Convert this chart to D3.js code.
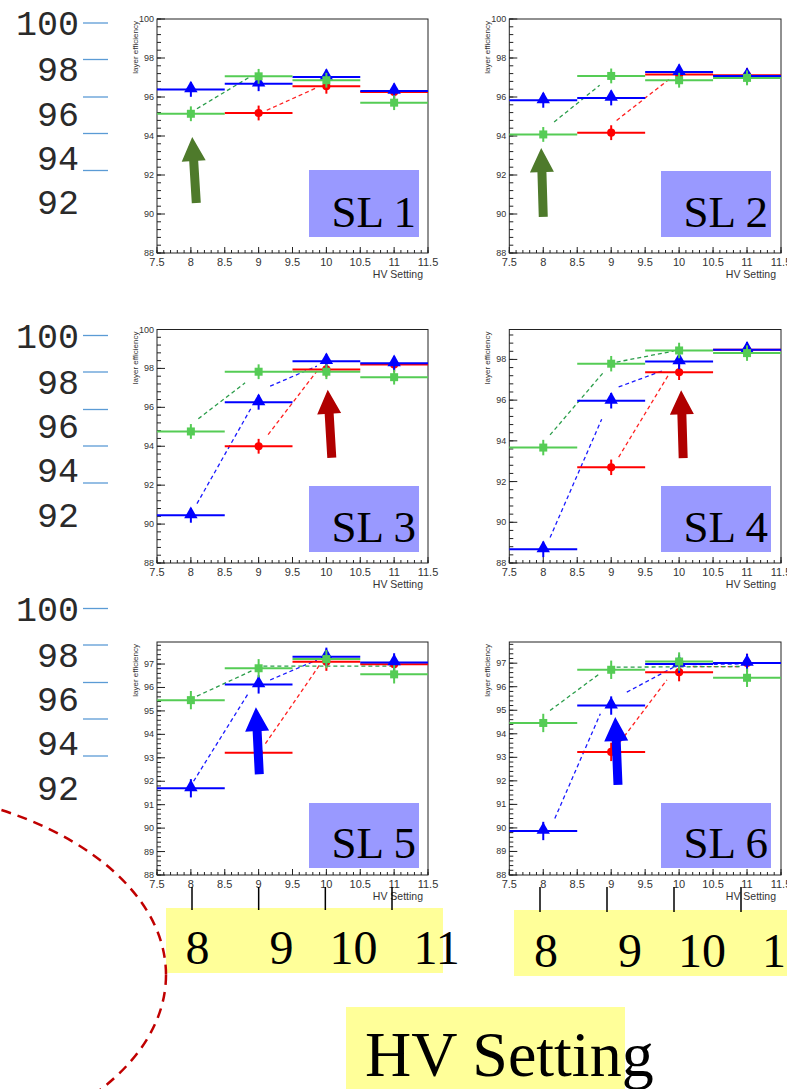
<!DOCTYPE html>
<html><head><meta charset="utf-8">
<script src="https://cdn.jsdelivr.net/npm/d3@7"></script>
<style>body{margin:0;background:#fff}svg{display:block}</style>
</head><body>
<svg id="c" width="787" height="1089"></svg>
<script>
// ---------------- data ----------------
const hv = [8, 9, 10, 11];
const xTicks = [7.5, 8, 8.5, 9, 9.5, 10, 10.5, 11, 11.5];
const panelNames = ["SL 1", "SL 2", "SL 3", "SL 4", "SL 5", "SL 6"];
const yMin = 88;
const yMax = [100, 100, 100, 99.47, 97.94, 97.9];
const yStep = [2, 2, 2, 2, 1, 1];
const errY = [0.38, 0.38, 0.38, 0.38, 0.39, 0.39];

const red1 = [null, 95.18, 96.55, 96.26], blue1 = [96.39, 96.68, 97.03, 96.31], green1 = [95.14, 97.06, 96.86, 95.71];
const red2 = [null, 94.17, 97.15, 97.11], blue2 = [95.83, 95.95, 97.28, 97.08], green2 = [94.08, 97.08, 96.86, 96.98];
const red3 = [null, 94.0, 97.95, 98.2], blue3 = [90.45, 96.26, 98.37, 98.26], green3 = [94.76, 97.83, 97.83, 97.55];
const red4 = [null, 92.7, 97.37, 98.47], blue4 = [88.67, 95.97, 97.9, 98.47], green4 = [93.67, 97.79, 98.44, 98.31];
const red5 = [null, 93.22, 97.1, 96.99], blue5 = [91.7, 96.13, 97.31, 97.07], green5 = [95.46, 96.82, 97.21, 96.56];
const red6 = [null, 93.23, 96.62, 97.01], blue6 = [89.87, 95.2, 96.97, 97.01], green6 = [94.46, 96.72, 97.07, 96.38];

// dashed fit curves, visible segments [x, eff]
const fitRed1 = [[[9.12, 95.32], [9.86, 96.48]]];
const fitBlue1 = [];
const fitGreen1 = [[[8.09, 95.40], [8.87, 97.03]]];
const fitRed2 = [[[9.08, 94.8], [9.85, 96.9]]];
const fitBlue2 = [];
const fitGreen2 = [[[8.16, 94.72], [8.83, 96.6]]];
const fitRed3 = [[[9.14, 94.6], [9.86, 97.86]]];
const fitBlue3 = [[[8.09, 91.05], [8.90, 96.03]], [[9.17, 97.09], [9.86, 98.12]]];
const fitGreen3 = [[[8.11, 95.41], [8.80, 97.26]]];
const fitRed4 = [[[9.11, 93.2], [9.84, 97.22]]];
const fitBlue4 = [[[8.1, 89.25], [8.86, 95.06]], [[9.11, 96.65], [9.77, 97.46]]];
const fitGreen4 = [[[8.1, 94.29], [8.89, 97.38]], [[9.08, 97.87], [9.92, 98.41]]];
const fitRed5 = [[[9.1, 93.6], [9.9, 96.96]]];
const fitBlue5 = [[[8.04, 92.0], [8.85, 95.76]], [[9.17, 96.32], [9.86, 97.17]]];
const fitGreen5 = [[[8.09, 95.63], [8.92, 96.74]], [[9.07, 96.91], [10.98, 96.91]]];
const fitRed6 = [[[9.13, 93.65], [9.82, 96.29]], [[10.2, 96.85], [10.9, 96.85]]];
const fitBlue6 = [[[8.17, 90.4], [8.84, 94.85]], [[9.23, 95.77], [9.92, 96.83]], [[10.2, 96.94], [10.95, 96.97]]];
const fitGreen6 = [[[8.1, 94.99], [8.81, 96.51]], [[9.08, 96.83], [10.9, 96.86]]];

// annotation arrows (data coords: tip, tail)
const arrowTip = [[8.02, 93.95], [7.97, 93.38], [10.02, 96.9], [10.03, 96.48], [8.96, 95.16], [9.06, 94.71]];
const arrowTail = [[8.08, 90.56], [8.0, 89.85], [10.08, 93.41], [10.06, 93.15], [9.01, 92.3], [9.10, 91.83]];
const arrowColor = ["#4e7a2b", "#4e7a2b", "#b00000", "#b00000", "#0000ff", "#0000ff"];

const sideLabels = ["100", "98", "96", "94", "92"];
const bottomLabels = "8     9   10   11";
const bigLabel = "HV Setting";

// ---------------- layout ----------------
const cols = [[157, 428], [509.3, 781]];
const rows = [[19, 253], [329.5, 563], [642, 875]];
const slBox = [[309, 170, 110, 67], [661, 171, 110, 66], [309, 486, 110, 66], [661, 486, 110, 66], [309, 803, 110, 65], [661, 803, 110, 65]];
const COL = {red: "#ff0000", blue: "#0000ff", green: "#55cc55"};
const DASH = {red: "#ff2020", blue: "#1a1aff", green: "#2a9d4a"};

const svg = d3.select("#c");
const allSeries = [
  {red: red1, blue: blue1, green: green1, fit: {red: fitRed1, blue: fitBlue1, green: fitGreen1}},
  {red: red2, blue: blue2, green: green2, fit: {red: fitRed2, blue: fitBlue2, green: fitGreen2}},
  {red: red3, blue: blue3, green: green3, fit: {red: fitRed3, blue: fitBlue3, green: fitGreen3}},
  {red: red4, blue: blue4, green: green4, fit: {red: fitRed4, blue: fitBlue4, green: fitGreen4}},
  {red: red5, blue: blue5, green: green5, fit: {red: fitRed5, blue: fitBlue5, green: fitGreen5}},
  {red: red6, blue: blue6, green: green6, fit: {red: fitRed6, blue: fitBlue6, green: fitGreen6}}
];

// side labels with blue dashes
const sideOffsets = [0, 312.5, 585.5];
const sideBase = [35, 81, 125.5, 169.5, 214];
const sideLine = [23, 59.5, 97, 133.5, 170.5];
sideOffsets.forEach(off => {
  const g = svg.append("g").attr("transform", `translate(0,${off})`);
  g.selectAll("text").data(sideLabels).join("text")
    .attr("x", 79).attr("y", (d, i) => sideBase[i])
    .attr("text-anchor", "end").attr("font-family", "Liberation Mono, Courier New, monospace")
    .attr("font-size", 35).attr("fill", "#2a2a2a").text(d => d);
  g.selectAll("line").data(sideLabels).join("line")
    .attr("x1", 83).attr("x2", 108).attr("y1", (d, i) => sideLine[i]).attr("y2", (d, i) => sideLine[i])
    .attr("stroke", "#5b9bd5").attr("stroke-width", 1.3);
});

panelNames.forEach((name, p) => {
  const c = cols[p % 2], r = rows[Math.floor(p / 2)];
  const x = d3.scaleLinear().domain([7.5, 11.5]).range(c);
  const y = d3.scaleLinear().domain([yMin, yMax[p]]).range([r[1], r[0]]);
  const g = svg.append("g");
  const S = allSeries[p];

  // frame
  g.append("rect").attr("x", c[0]).attr("y", r[0]).attr("width", c[1] - c[0]).attr("height", r[1] - r[0])
    .attr("fill", "#fff").attr("stroke", "#222").attr("stroke-width", 1);

  // y ticks
  const st = yStep[p], minor = st / 5;
  const majors = d3.range(yMin, yMax[p] + 1e-6, st);
  const minors = d3.range(yMin, yMax[p] + 1e-6, minor);
  g.selectAll(".ymin").data(minors).join("line").attr("x1", c[0]).attr("x2", c[0] + 4)
    .attr("y1", d => y(d)).attr("y2", d => y(d)).attr("stroke", "#222").attr("stroke-width", 1);
  g.selectAll(".ymaj").data(majors).join("line").attr("x1", c[0]).attr("x2", c[0] + 8)
    .attr("y1", d => y(d)).attr("y2", d => y(d)).attr("stroke", "#222").attr("stroke-width", 1);
  g.selectAll(".ylab").data(majors).join("text").attr("x", c[0] - 3).attr("y", d => y(d) + 3)
    .attr("text-anchor", "end").attr("font-family", "Liberation Sans, Arial, sans-serif").attr("font-size", 9)
    .attr("fill", "#333").text(d => d3.format("d")(d));

  // x ticks
  const xmin = d3.range(7.5, 11.5001, 0.1);
  g.selectAll(".xmin").data(xmin).join("line").attr("x1", d => x(d)).attr("x2", d => x(d))
    .attr("y1", r[1]).attr("y2", r[1] - 3).attr("stroke", "#222").attr("stroke-width", 1);
  g.selectAll(".xmaj").data(xTicks).join("line").attr("x1", d => x(d)).attr("x2", d => x(d))
    .attr("y1", r[1]).attr("y2", r[1] - 6).attr("stroke", "#222").attr("stroke-width", 1);
  g.selectAll(".xlab").data(xTicks).join("text").attr("x", d => x(d)).attr("y", r[1] + 13)
    .attr("text-anchor", "middle").attr("font-family", "Liberation Sans, Arial, sans-serif").attr("font-size", 11)
    .attr("fill", "#333").text(d => d);
  g.append("text").attr("x", c[1] - 5).attr("y", r[1] + 25).attr("text-anchor", "end")
    .attr("font-family", "Liberation Sans, Arial, sans-serif").attr("font-size", 10.5).attr("fill", "#333").text("HV Setting");
  g.append("text").attr("transform", `translate(${c[0] - 19},${r[0] + 2}) rotate(-90)`).attr("text-anchor", "end")
    .attr("font-family", "Liberation Sans, Arial, sans-serif").attr("font-size", 8).attr("fill", "#333").text("layer efficiency");

  // SL box
  const b = slBox[p];
  g.append("rect").attr("x", b[0]).attr("y", b[1]).attr("width", b[2]).attr("height", b[3]).attr("fill", "#9999ff");
  g.append("text").attr("x", b[0] + b[2] - 3).attr("y", b[1] + b[3] - 10).attr("text-anchor", "end")
    .attr("font-family", "Liberation Serif, Times New Roman, serif").attr("font-size", 45).attr("fill", "#000").text(name);

  // dashed fits
  const line = d3.line().x(d => x(d[0])).y(d => y(d[1]));
  ["red", "blue", "green"].forEach(k => {
    g.selectAll(".fit" + k).data(S.fit[k]).join("path").attr("d", line).attr("fill", "none")
      .attr("stroke", DASH[k]).attr("stroke-width", 1.3).attr("stroke-dasharray", "4 3");
  });

  // points with error bars
  ["red", "blue", "green"].forEach(k => {
    const pts = hv.map((h, i) => ({h, v: S[k][i]})).filter(d => d.v !== null);
    const gg = g.append("g");
    gg.selectAll(".ex").data(pts).join("line").attr("x1", d => x(d.h - 0.5)).attr("x2", d => x(d.h + 0.5))
      .attr("y1", d => y(d.v)).attr("y2", d => y(d.v)).attr("stroke", COL[k]).attr("stroke-width", 2);
    gg.selectAll(".ey").data(pts).join("line").attr("x1", d => x(d.h)).attr("x2", d => x(d.h))
      .attr("y1", d => y(d.v - errY[p])).attr("y2", d => y(d.v + errY[p])).attr("stroke", COL[k]).attr("stroke-width", 2);
    const sym = k === "red" ? d3.symbolCircle : k === "blue" ? d3.symbolTriangle : d3.symbolSquare;
    const size = k === "red" ? 52 : k === "blue" ? 78 : 64;
    gg.selectAll(".mk").data(pts).join("path").attr("d", d3.symbol(sym, size))
      .attr("transform", d => `translate(${x(d.h)},${y(d.v) + (k === "blue" ? -1 : 0)})`).attr("fill", COL[k]);
  });

  // arrow
  const P = [x(arrowTip[p][0]), y(arrowTip[p][1])], T = [x(arrowTail[p][0]), y(arrowTail[p][1])];
  const dx = P[0] - T[0], dy = P[1] - T[1], len = Math.hypot(dx, dy);
  const u = [dx / len, dy / len], n = [-u[1], u[0]];
  const L = 24, hw = 12, sw = 4.5;
  const B = [P[0] - u[0] * L, P[1] - u[1] * L];
  const poly = [
    [T[0] + n[0] * sw, T[1] + n[1] * sw], [B[0] + n[0] * sw, B[1] + n[1] * sw], [B[0] + n[0] * hw, B[1] + n[1] * hw],
    P, [B[0] - n[0] * hw, B[1] - n[1] * hw], [B[0] - n[0] * sw, B[1] - n[1] * sw], [T[0] - n[0] * sw, T[1] - n[1] * sw]
  ];
  g.append("path").attr("d", "M" + poly.map(q => q.join(",")).join("L") + "Z").attr("fill", arrowColor[p]);
});

// bottom yellow boxes with HV values
const bottomBoxes = [
  {box: [166, 908, 277, 65], ticks: [192, 392], t0: 887, t1: 910, tx: 185.5, ty: 964},
  {box: [514, 910, 280, 66], ticks: [540, 741], t0: 887, t1: 912, tx: 534, ty: 967}
];
bottomBoxes.forEach(bb => {
  svg.append("rect").attr("x", bb.box[0]).attr("y", bb.box[1]).attr("width", bb.box[2]).attr("height", bb.box[3]).attr("fill", "#ffff99");
  const bx = d3.scaleLinear().domain([8, 11]).range(bb.ticks);
  svg.append("g").selectAll("line").data(hv).join("line").attr("x1", d => bx(d)).attr("x2", d => bx(d))
    .attr("y1", bb.t0).attr("y2", bb.t1).attr("stroke", "#000").attr("stroke-width", 1.5);
  svg.append("text").attr("x", bb.tx).attr("y", bb.ty).attr("xml:space", "preserve").style("white-space", "pre")
    .attr("font-family", "Liberation Serif, Times New Roman, serif").attr("font-size", 48).attr("fill", "#000").text(bottomLabels);
});

// big HV Setting label
svg.append("rect").attr("x", 346).attr("y", 1007).attr("width", 279).attr("height", 90).attr("fill", "#ffff99");
svg.append("text").attr("x", 365).attr("y", 1076).attr("font-family", "Liberation Serif, Times New Roman, serif")
  .attr("font-size", 64).attr("fill", "#000").text(bigLabel);

// red dashed ellipse
svg.append("ellipse").attr("cx", -150).attr("cy", 975).attr("rx", 316).attr("ry", 188)
  .attr("fill", "none").attr("stroke", "#c00000").attr("stroke-width", 2.5).attr("stroke-dasharray", "10 7");
</script>
</body></html>
